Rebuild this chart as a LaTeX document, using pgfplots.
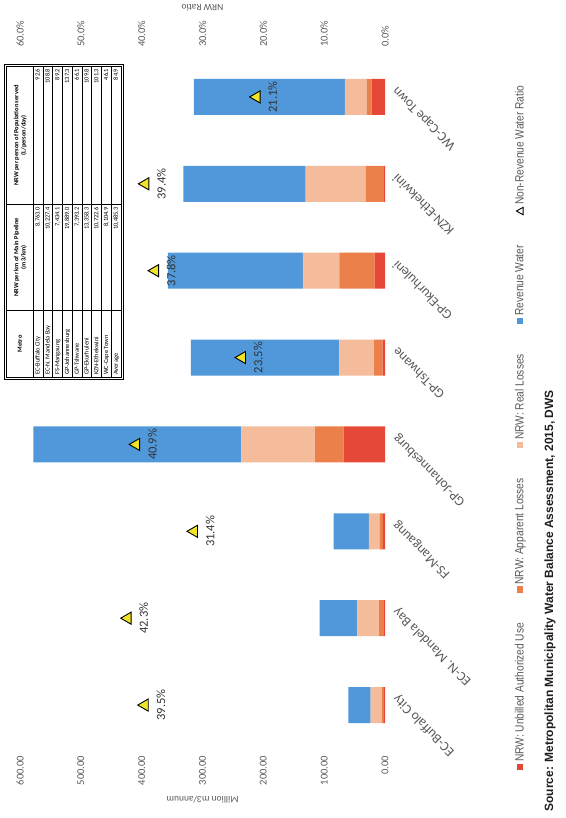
\documentclass[border=0pt]{standalone}
\usepackage{pgfplots}
\usepackage{pgfplotstable}
\pgfplotsset{compat=1.18}
\usepackage{fontspec}
\setmainfont{Carlito}
\newfontfamily\arial{Liberation Sans}
\newfontfamily\arialn[FakeStretch=0.85]{Liberation Sans}
\definecolor{cRev}{RGB}{80,152,218}
\definecolor{cReal}{RGB}{245,188,156}
\definecolor{cApp}{RGB}{236,128,74}
\definecolor{cUnb}{RGB}{230,72,56}
\definecolor{cTri}{RGB}{240,228,40}
\definecolor{txt}{RGB}{89,89,89}
\definecolor{lab}{RGB}{50,50,50}

% million m3 / annum
\pgfplotstableread{
x unb app real rev
0 1.8 3 19 36.5
1 2.5 7 36 62
2 3.5 5 18 58
3 68 47 121 342
4 4 14 57 244
5 17 58 60 222
6 1.5 30 99 201
7 22 8 36 248
}\bars
% NRW ratio in percent
\pgfplotstableread{
x nrw
0 39.5
1 42.3
2 31.4
3 40.9
4 23.5
5 37.8
6 39.4
7 21.1
}\ratio

\pgfplotsset{
  bl/.style={legend image code/.code={\fill[##1] (0pt,-3.2pt) rectangle (6.4pt,3.2pt);}},
}

\begin{document}
\begin{tikzpicture}[rotate=90, transform shape]
\path[use as bounding box] (-69.5pt,-180pt) rectangle (748.5pt,385pt);
\begin{axis}[
  at={(0pt,0pt)}, anchor=south west,
  scale only axis, width=695pt, height=365pt,
  xmin=-0.5, xmax=7.5, ymin=0, ymax=600,
  ybar stacked, bar width=36pt,
  axis line style={draw=none}, major tick length=0pt,
  /pgf/number format/assume math mode=true,
  xtick={0,...,7},
  xticklabels={EC-Buffalo City, EC-N. Mandela Bay, FS-Mangaung, GP-Johannesburg, GP-Tshwane, GP-Ekurhuleni, KZN-Ethekwini, WC-Cape Town},
  x tick label style={rotate=45, anchor=north east, font=\fontsize{13.5}{14}\selectfont, text=txt, yshift=-4pt, xshift=2pt},
  ytick={0,100,...,600}, scaled y ticks=false,
  yticklabel={\pgfmathprintnumber[fixed,fixed zerofill,precision=2]{\tick}},
  y tick label style={font=\fontsize{10.5}{11}\selectfont, text=txt, xshift=-4pt},
  ylabel={Million m3/annum},
  ylabel style={at={(axis description cs:-0.074,0.5)}, anchor=center, font=\fontsize{9.5}{10}\selectfont, text=txt},
  legend style={at={(axis description cs:0.4626,-0.37)}, anchor=center, legend columns=5, draw=none, fill=none,
    font=\arialn\fontsize{12}{13}\selectfont, text=txt,
    /tikz/every even column/.append style={column sep=28pt}},
]
\addplot[fill=cUnb, draw=none, bl] table[x=x, y=unb] {\bars};
\addlegendentry{NRW: Unbilled Authorized Use}
\addplot[fill=cApp, draw=none, bl] table[x=x, y=app] {\bars};
\addlegendentry{NRW: Apparent Losses}
\addplot[fill=cReal, draw=none, bl] table[x=x, y=real] {\bars};
\addlegendentry{NRW: Real Losses}
\addplot[fill=cRev, draw=none, bl] table[x=x, y=rev] {\bars};
\addlegendentry{Revenue Water}
\addlegendimage{legend image code/.code={\draw[black, fill=white, line width=0.9pt] (0pt,-3pt) -- (7.4pt,-3pt) -- (3.7pt,3.6pt) -- cycle;}}
\addlegendentry{Non-Revenue Water Ratio}
\end{axis}
\begin{axis}[
  at={(0pt,0pt)}, anchor=south west,
  scale only axis, width=695pt, height=365pt,
  xmin=-0.5, xmax=7.5, ymin=0, ymax=60,
  axis x line=none, axis y line*=right,
  axis line style={draw=none}, major tick length=0pt,
  /pgf/number format/assume math mode=true,
  ytick={0,10,...,60},
  yticklabel={\pgfmathprintnumber[fixed,fixed zerofill,precision=1]{\tick}\%},
  y tick label style={font=\fontsize{10.5}{11}\selectfont, text=txt, xshift=3pt},
  ylabel={NRW Ratio},
  ylabel style={at={(axis description cs:1.0655,0.5)}, anchor=center, font=\fontsize{9.5}{10}\selectfont, text=txt},
  clip=false,
]
\addplot[only marks, mark=triangle*, mark size=7pt,
  mark options={fill=cTri, draw=black, line width=0.9pt},
  nodes near coords={\pgfmathprintnumber[fixed,fixed zerofill,precision=1]{\pgfplotspointmeta}\%},
  nodes near coords align={below},
  every node near coord/.append style={font=\fontsize{12.5}{13}\selectfont, text=lab, yshift=-8pt}]
  table[x=x, y=nrw] {\ratio};
\end{axis}
% inset table
\node[anchor=north west, draw=black, line width=0.8pt, inner sep=2pt] at (368.5pt,381pt) {%
  \fontsize{6.4}{7.2}\selectfont\setlength{\tabcolsep}{2.5pt}\renewcommand{\arraystretch}{1.3}%
  \begin{tabular}{|p{62pt}|>{\raggedleft\arraybackslash}p{100pt}|>{\raggedleft\arraybackslash}p{133pt}|}
  \hline
  \multicolumn{1}{|c|}{\rule[-11pt]{0pt}{26pt}\textbf{Metro}} &
  \multicolumn{1}{c|}{\parbox{100pt}{\centering\textbf{NRW per km of Main Pipeline}\\\textbf{(m3/km)}}} &
  \multicolumn{1}{c|}{\parbox{133pt}{\centering\textbf{NRW per person of Population served}\\\textbf{(L/person/day)}}} \\ \hline
  EC-Buffalo City & 8,763.0 & 92.6 \\ \hline
  EC-N. Mandela Bay & 10,227.4 & 108.8 \\ \hline
  FS-Mangaung & 7,434.1 & 89.2 \\ \hline
  GP-Johannesburg & 19,889.0 & 137.3 \\ \hline
  GP-Tshwane & 7,393.2 & 66.1 \\ \hline
  GP-Ekurhuleni & 13,358.3 & 109.8 \\ \hline
  KZN-Ethekwini & 10,722.6 & 101.3 \\ \hline
  WC-Cape Town & 8,104.9 & 46.1 \\ \hline
  Average & 10,485.3 & 84.9 \\ \hline
  \end{tabular}};
\node[anchor=west, font=\arial\bfseries\fontsize{12}{13}\selectfont, text={rgb,255:red,30;green,30;blue,30}] at (-66.5pt,-165pt)
  {Source: Metropolitan Municipality Water Balance Assessment, 2015, DWS};
\end{tikzpicture}
\end{document}
